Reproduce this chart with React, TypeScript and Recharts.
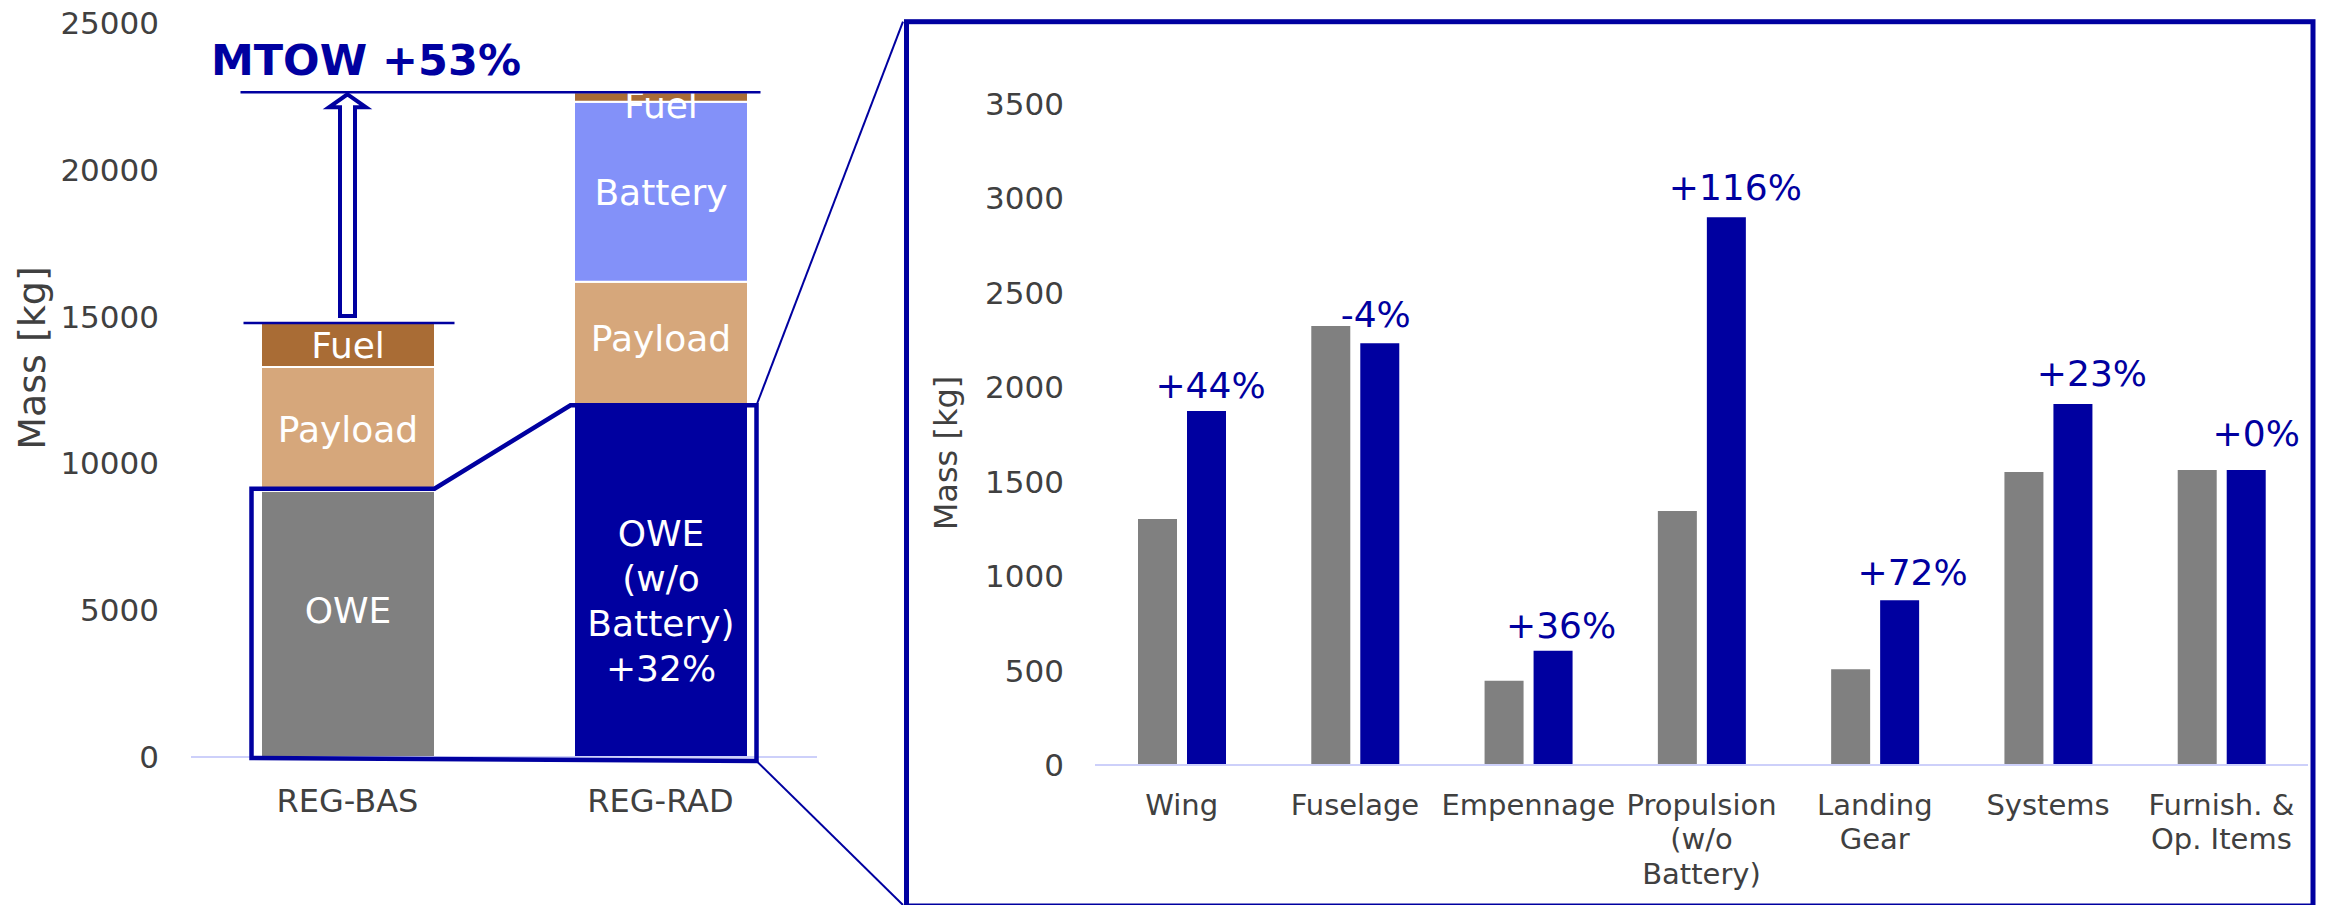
import React, { useState, useEffect } from 'react';
import * as Recharts from 'recharts';
import { BarChart, Bar, XAxis, YAxis, LabelList, Cell } from 'recharts';

// ---- Take-off mass build-up per configuration (kg) ----
const configs = ['REG-BAS', 'REG-RAD'];
const oweMass = [9070, 11980];
const payloadMass = [4210, 4210];
const batteryMass = [0, 6130];
const fuelMass = [1500, 320];
const massTicks = [0, 5000, 10000, 15000, 20000, 25000];
const oweLabels = [['OWE'], ['OWE', '(w/o', 'Battery)', '+32%']];
const mtowLabel = 'MTOW +53%';

// ---- OWE component breakdown (kg) ----
const componentLines = [
  ['Wing'],
  ['Fuselage'],
  ['Empennage'],
  ['Propulsion', '(w/o', 'Battery)'],
  ['Landing', 'Gear'],
  ['Systems'],
  ['Furnish. &', 'Op. Items'],
];
const basComponentMass = [1302, 2324, 446, 1345, 507, 1551, 1562];
const radComponentMass = [1875, 2233, 605, 2900, 872, 1911, 1562];
const changeLabels = ['+44%', '-4%', '+36%', '+116%', '+72%', '+23%', '+0%'];
const componentTicks = [0, 500, 1000, 1500, 2000, 2500, 3000, 3500];

// ---- styling ----
const FONT = '"DejaVu Sans", Verdana, sans-serif';
const DARK_BLUE = '#0000A0';
const GREY = '#808080';
const FUEL = '#A96C35';
const PAYLOAD = '#D6A77B';
const BATTERY = '#8391F9';
const AXIS_TEXT = '#404040';
const AXIS_LINE = '#CDD0FA';

const H = 905;
const LEFT_W = 905;
const Y_AXIS_W = 100;
const X_AXIS_H = 60;
const LEFT_MARGIN = { top: 23, right: 88, bottom: 88, left: 91 };
const STACK_BAR = 174;
const RIGHT_X = 880;
const RIGHT_W = 1445;
const RIGHT_MARGIN = { top: 104, right: 17, bottom: 80, left: 115 };
const FRAME = { left: 906.5, top: 21.7, right: 2313, bottom: 906 };
const SEG_FONT = 36;
const SEG_LINE = 45;
// per-bar label offsets: [dx, gap above bar]
const CHANGE_NUDGE = [[4, 13], [-4, 16], [8, 13], [9, 17], [13, 15], [19, 18], [10, 24]];
const SEGMENT_NUDGE: Record<string, number> = { 'owe-0': -14, 'owe-1': 19, 'payload-1': -6, 'battery-1': 3 };

type Plot = { x: number; y: number; width: number; height: number };

const stackRows = configs.map((config, i) => ({
  config,
  owe: oweMass[i],
  payload: payloadMass[i],
  battery: batteryMass[i],
  fuel: fuelMass[i],
}));
const totals = configs.map((_, i) => oweMass[i] + payloadMass[i] + batteryMass[i] + fuelMass[i]);

const componentRows = componentLines.map((lines, i) => ({
  component: lines.join(' '),
  bas: basComponentMass[i],
  rad: radComponentMass[i],
}));

const LEFT_PLOT_DEFAULT: Plot = {
  x: LEFT_MARGIN.left + Y_AXIS_W,
  y: LEFT_MARGIN.top,
  width: LEFT_W - LEFT_MARGIN.left - Y_AXIS_W - LEFT_MARGIN.right,
  height: H - LEFT_MARGIN.top - LEFT_MARGIN.bottom - X_AXIS_H,
};

// Reports the chart's plot area so annotations can be layered above the bars.
const usePlotAreaHook = (Recharts as any).usePlotArea;
function PlotProbe({ onPlot }: { onPlot: (p: Plot) => void }) {
  const pa = typeof usePlotAreaHook === 'function' ? usePlotAreaHook() : undefined;
  const px = pa?.x, py = pa?.y, pw = pa?.width, ph = pa?.height;
  useEffect(() => {
    if (pw && ph) onPlot({ x: px, y: py, width: pw, height: ph });
  }, [px, py, pw, ph]);
  return null;
}

function segmentLabel(key: string, textFor: (i: number) => string[]) {
  return (props: any) => {
    const { x, y, width, height, index } = props;
    if (!height || height <= 0) return null;
    const lines = textFor(index);
    const cap = SEG_FONT * 0.73;
    const block = (lines.length - 1) * SEG_LINE + cap;
    const nudge = SEGMENT_NUDGE[`${key}-${index}`] ?? 0;
    let top = Number(y) + Number(height) / 2 - block / 2 + nudge;
    top = Math.max(top, Number(y) - 1);
    const cx = Number(x) + Number(width) / 2;
    return (
      <text textAnchor="middle" fontSize={SEG_FONT} fill="#ffffff" fontFamily={FONT}>
        {lines.map((l, k) => (
          <tspan key={k} x={cx} y={top + cap + k * SEG_LINE}>
            {l}
          </tspan>
        ))}
      </text>
    );
  };
}

function ConfigTick(props: any) {
  const { x, y, payload } = props;
  return (
    <text x={x} y={y + 23} textAnchor="middle" fontSize={32} fill={AXIS_TEXT} fontFamily={FONT}>
      {payload.value}
    </text>
  );
}

function ComponentTick(props: any) {
  const { x, y, payload } = props;
  const lines = componentLines[payload.index] ?? [payload.value];
  return (
    <text textAnchor="middle" fontSize={29} fill={AXIS_TEXT} fontFamily={FONT}>
      {lines.map((l, k) => (
        <tspan key={k} x={x} y={y + 21.5 + k * 34.5}>
          {l}
        </tspan>
      ))}
    </text>
  );
}

function MassStackAnnotations({ p }: { p: Plot }) {
  const yMax = massTicks[massTicks.length - 1];
  const yPx = (v: number) => p.y + p.height * (1 - v / yMax);
  const band = p.width / configs.length;
  const cx = (i: number) => p.x + band * (i + 0.5);
  const half = STACK_BAR / 2;
  const zero = yPx(0);
  const basTop = yPx(totals[0]);
  const radTop = yPx(totals[1]);
  const basOwe = yPx(oweMass[0]);
  const radOwe = yPx(oweMass[1]);
  const rightEdge = cx(1) + half + 9;
  const outline = [
    [cx(0) - half - 9, basOwe - 2],
    [cx(0) + half, basOwe - 2],
    [cx(1) - half - 3, radOwe],
    [rightEdge, radOwe],
    [rightEdge, zero + 4],
    [cx(0) - half - 9, zero + 1],
  ];
  const a = cx(0);
  const arrow = [
    [a, radTop + 2],
    [a + 18.5, radTop + 15],
    [a + 7.5, radTop + 15],
    [a + 7.5, basTop - 7],
    [a - 7.5, basTop - 7],
    [a - 7.5, radTop + 15],
    [a - 18.5, radTop + 15],
  ];
  const pts = (arr: number[][]) => arr.map((q) => q.join(',')).join(' ');
  const labelY = p.y + p.height / 2 - 32;
  return (
    <g>
      <polygon points={pts(outline)} fill="none" stroke={DARK_BLUE} strokeWidth={4.5} strokeLinejoin="miter" />
      <line x1={cx(0) - 107} x2={cx(1) + 100} y1={radTop} y2={radTop} stroke={DARK_BLUE} strokeWidth={2.5} />
      <line x1={cx(0) - 104} x2={cx(0) + 107} y1={basTop} y2={basTop} stroke={DARK_BLUE} strokeWidth={2.5} />
      <polygon points={pts(arrow)} fill="#ffffff" stroke={DARK_BLUE} strokeWidth={4} strokeLinejoin="miter" />
      <text x={a + 18.5} y={radTop - 17} textAnchor="middle" fontSize={43} fontWeight="bold" fill={DARK_BLUE} fontFamily={FONT}>
        {mtowLabel}
      </text>
      <line x1={rightEdge} y1={radOwe} x2={FRAME.left - 3.5} y2={FRAME.top} stroke={DARK_BLUE} strokeWidth={2} />
      <line x1={rightEdge} y1={zero + 4} x2={FRAME.left - 3.5} y2={H} stroke={DARK_BLUE} strokeWidth={2} />
      <text
        x={45}
        y={labelY}
        transform={`rotate(-90 45 ${labelY})`}
        textAnchor="middle"
        fontSize={38}
        fill={AXIS_TEXT}
        fontFamily={FONT}
      >
        Mass [kg]
      </text>
    </g>
  );
}

function ComponentAnnotations() {
  const fx = FRAME.left - RIGHT_X;
  const ly = 453;
  const lx = 957 - RIGHT_X;
  return (
    <g>
      <rect
        x={fx}
        y={FRAME.top}
        width={FRAME.right - FRAME.left}
        height={FRAME.bottom - FRAME.top}
        fill="none"
        stroke={DARK_BLUE}
        strokeWidth={5}
      />
      <text x={lx} y={ly} transform={`rotate(-90 ${lx} ${ly})`} textAnchor="middle" fontSize={32} fill={AXIS_TEXT} fontFamily={FONT}>
        Mass [kg]
      </text>
    </g>
  );
}

function changeLabel(props: any) {
  const { x, y, width, index, value } = props;
  const i = typeof index === 'number' ? index : radComponentMass.indexOf(value);
  const [dx, gap] = CHANGE_NUDGE[i] ?? [0, 14];
  return (
    <text
      x={Number(x) + Number(width) / 2 + dx}
      y={Number(y) - gap}
      textAnchor="middle"
      fontSize={36}
      fill={DARK_BLUE}
      fontFamily={FONT}
    >
      {changeLabels[i]}
    </text>
  );
}

export default function App() {
  const [leftPlot, setLeftPlot] = useState<Plot>(LEFT_PLOT_DEFAULT);
  const updateLeft = (p: Plot) =>
    setLeftPlot((prev) =>
      prev.x === p.x && prev.y === p.y && prev.width === p.width && prev.height === p.height ? prev : p,
    );
  return (
    <div
      style={{
        position: 'absolute',
        left: 0,
        top: 0,
        width: 2325,
        height: H,
        background: '#ffffff',
        fontFamily: FONT,
        overflow: 'hidden',
      }}
    >
      <div style={{ position: 'absolute', left: 0, top: 0 }}>
        <BarChart width={LEFT_W} height={H} data={stackRows} margin={LEFT_MARGIN}>
          <XAxis
            dataKey="config"
            height={X_AXIS_H}
            tick={<ConfigTick />}
            tickLine={false}
            tickSize={0}
            tickMargin={32}
            axisLine={{ stroke: AXIS_LINE, strokeWidth: 2 }}
            interval={0}
          />
          <YAxis
            type="number"
            domain={[0, 25000]}
            ticks={massTicks}
            interval={0}
            width={Y_AXIS_W}
            axisLine={false}
            tickLine={false}
            tickSize={0}
            tickMargin={32}
            tick={{ fontSize: 31, fill: AXIS_TEXT, fontFamily: FONT }}
          />
          <Bar dataKey="owe" stackId="m" barSize={STACK_BAR} stroke="#ffffff" strokeWidth={2} isAnimationActive={false}>
            {stackRows.map((_, i) => (
              <Cell key={i} fill={i === 0 ? GREY : DARK_BLUE} />
            ))}
            <LabelList dataKey="owe" content={segmentLabel('owe', (i) => oweLabels[i])} />
          </Bar>
          <Bar dataKey="payload" stackId="m" barSize={STACK_BAR} fill={PAYLOAD} stroke="#ffffff" strokeWidth={2} isAnimationActive={false}>
            <LabelList dataKey="payload" content={segmentLabel('payload', () => ['Payload'])} />
          </Bar>
          <Bar dataKey="battery" stackId="m" barSize={STACK_BAR} fill={BATTERY} stroke="#ffffff" strokeWidth={2} isAnimationActive={false}>
            <LabelList dataKey="battery" content={segmentLabel('battery', () => ['Battery'])} />
          </Bar>
          <Bar dataKey="fuel" stackId="m" barSize={STACK_BAR} fill={FUEL} stroke="#ffffff" strokeWidth={2} isAnimationActive={false}>
            <LabelList dataKey="fuel" content={segmentLabel('fuel', () => ['Fuel'])} />
          </Bar>
          <PlotProbe onPlot={updateLeft} />
        </BarChart>
      </div>
      <div style={{ position: 'absolute', left: RIGHT_X, top: 0 }}>
        <BarChart width={RIGHT_W} height={H} data={componentRows} margin={RIGHT_MARGIN} barGap={10}>
          <XAxis
            dataKey="component"
            height={X_AXIS_H}
            tick={<ComponentTick />}
            tickLine={false}
            tickSize={0}
            tickMargin={28}
            axisLine={{ stroke: AXIS_LINE, strokeWidth: 2 }}
            interval={0}
          />
          <YAxis
            type="number"
            domain={[0, 3500]}
            ticks={componentTicks}
            interval={0}
            width={Y_AXIS_W}
            axisLine={false}
            tickLine={false}
            tickSize={0}
            tickMargin={31}
            tick={{ fontSize: 31, fill: AXIS_TEXT, fontFamily: FONT }}
          />
          <Bar dataKey="bas" fill={GREY} barSize={39} isAnimationActive={false} />
          <Bar dataKey="rad" fill={DARK_BLUE} barSize={39} isAnimationActive={false}>
            <LabelList dataKey="rad" content={changeLabel} />
          </Bar>
          <ComponentAnnotations />
        </BarChart>
      </div>
      <svg
        width={LEFT_W}
        height={H}
        style={{ position: 'absolute', left: 0, top: 0, pointerEvents: 'none', overflow: 'visible' }}
      >
        <MassStackAnnotations p={leftPlot} />
      </svg>
    </div>
  );
}
